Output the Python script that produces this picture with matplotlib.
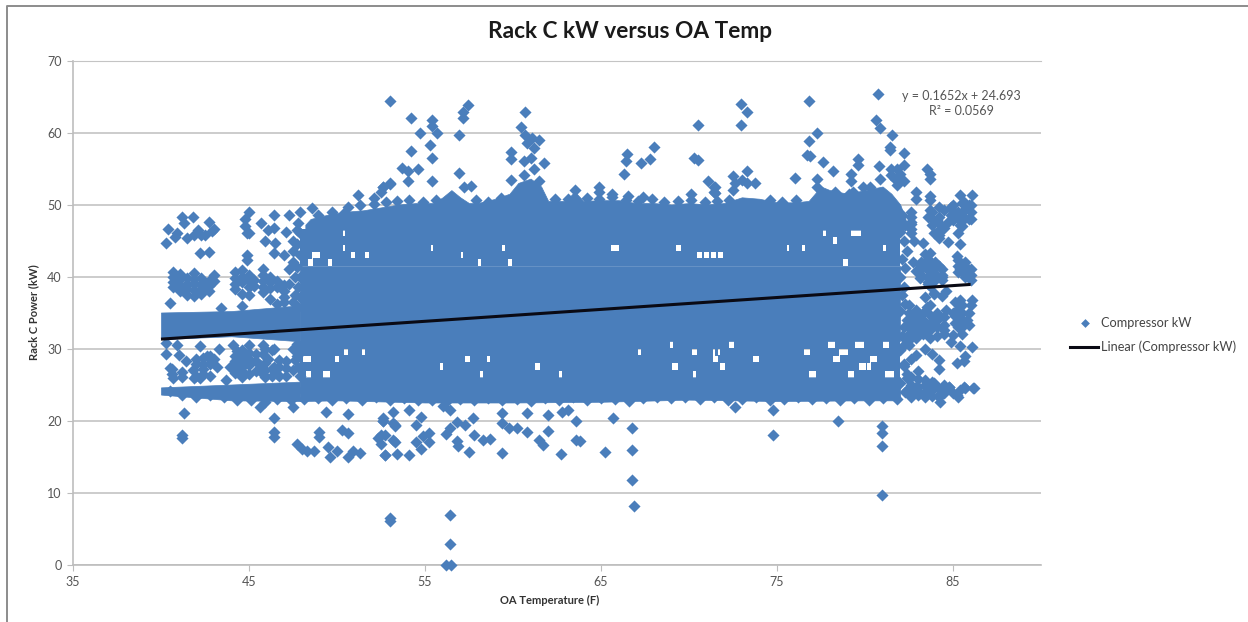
import matplotlib
matplotlib.use("Agg")
import matplotlib.pyplot as plt

plt.rcParams['font.family'] = ['Lato', 'DejaVu Sans']

# ============================================================
# DATA
# ============================================================

BLUE = '#4A7EBB'

x_ticks = [35, 45, 55, 65, 75, 85]
y_ticks = [0, 10, 20, 30, 40, 50, 60, 70]

trend_temp = [40, 86]
trend_kw = [31.3, 38.9]

# The reference has thousands of overlapping diamonds that merge into a solid
# band, so the saturated part is kept as its read envelope
top_temp = [48.2, 48.5, 49.5, 50.5, 51.5, 52.5, 53.5, 54.5, 55.5, 56, 56.5, 57, 57.5, 58, 59, 59.8, 60.3, 61, 61.6, 62,
            63, 63.5, 64, 65, 66, 67, 68, 69, 70, 71, 72, 73, 74, 75, 76, 76.8, 77.5, 78, 79, 80, 81, 81.5, 82, 82.3]
top_kw = [47.2, 48.0, 48.6, 49, 49.2, 49.6, 50, 50.2, 50.2, 51, 52, 51, 50.2, 50.2, 50.8, 51.5, 53, 53.6, 52.5, 50.5,
          50.5, 51.8, 50.5, 50.6, 50.6, 50.2, 50.2, 50, 50.2, 50, 50.2, 51, 50.8, 50.3, 50.3, 50.5, 52.5, 52, 51.5, 52,
          52.5, 51.5, 50, 48]
low_temp = [47.9, 50, 55, 60, 65, 70, 75, 80, 82.0]
low_kw = [22.7, 22.8, 22.5, 22.5, 22.6, 22.9, 22.7, 22.8, 22.8]

left_temp = [40, 44, 47.9]
left_low_kw = [31.3, 31.7, 31.0]
left_high_kw = [35.0, 35.2, 36.0]
left_floor_kw = [23.6, 22.8, 22.7]
left_under_kw = [24.6, 25.0, 25.4]

mid_temp = [47.9, 82.0]
mid_low_kw = [31, 31]
mid_high_kw = [41.5, 41.5]

# Rows of the band that are not solid: 26-31 kW and 41.5-46.5 kW
row_bottoms = [26, 27, 28, 29, 30, 41.5, 42.5, 43.5, 44.5, 45.5]
row_start = 47.9
row_end = 82.0

# White flecks left between the diamonds in those rows
fleck_temp = [48.8, 48.5, 50.4, 50.4, 50.9, 51.7, 49.6, 55.4, 57.1, 58.1, 59.45, 59.83, 65.8, 69.4, 70.6, 71.4,
              71.8, 71.0, 76.5, 75.65, 78.3, 78.9, 77.7, 79.5, 81.1,
              48.3, 48.4, 49.4, 50.0, 50.5, 51.5, 57.4, 58.6, 58.2, 55.95, 61.4, 62.7, 67.2, 69.0, 70.3,
              71.5, 69.2, 70.3, 71.5, 71.6, 72.4, 71.9, 73.8, 76.7, 77.0, 78.1, 78.8, 79.7, 78.4, 79.9, 79.2, 80.5,
              81.4, 81.2, 80.2]
fleck_kw = [43.0, 41.8, 45.5, 44.1, 43.2, 42.8, 42.0, 43.7, 43.2, 42.3, 43.9, 41.8, 43.7, 43.8, 43.4, 43.0,
            43.2, 42.8, 43.9, 44.4, 44.5, 42.3, 46.0, 46.0, 44.4,
            28.6, 26.6, 26.6, 28.2, 29.1, 29.6, 28.6, 28.0, 26.2, 27.0, 27.7, 26.6, 29.3, 30.5, 29.5,
            29.8, 27.5, 26.5, 28.0, 29.8, 30.5, 27.9, 28.4, 29.1, 26.5, 30.9, 29.0, 30.9, 28.0, 27.7, 26.5, 28.9,
            26.5, 30.0, 27.0]
fleck_width = [0.45, 0.3, 0.12, 0.12, 0.2, 0.2, 0.2, 0.15, 0.15, 0.2, 0.2, 0.2, 0.5, 0.25, 0.25, 0.3,
               0.3, 0.25, 0.2, 0.12, 0.2, 0.25, 0.12, 0.6, 0.2,
               0.45, 0.3, 0.4, 0.25, 0.25, 0.2, 0.3, 0.15, 0.2, 0.2, 0.25, 0.2, 0.15, 0.2, 0.3,
               0.3, 0.3, 0.15, 0.3, 0.3, 0.3, 0.3, 0.35, 0.3, 0.4, 0.4, 0.5, 0.5, 0.4, 0.45, 0.3, 0.4,
               0.5, 0.3, 0.3]

# Scalloped edges of the band
edge_top_temp = [50.6, 51.3, 52.1, 52.8, 53.4, 54.1, 54.9, 55.6, 57.9, 58.6, 59.3, 62.4, 63.1, 64.2, 64.9, 65.6, 66.4,
                 67.1, 67.9, 68.6, 69.4, 70.1, 70.9, 71.6, 72.3, 74.6, 75.3, 76.1, 79.3, 48.9, 49.7]
edge_top_kw = [49.6, 49.9, 50.1, 50.3, 50.5, 50.6, 50.4, 50.6, 50.6, 50.4, 50.9, 50.7, 50.8, 50.9, 50.7, 51.0, 50.6,
               50.5, 50.7, 50.3, 50.5, 50.6, 50.3, 50.5, 50.6, 50.6, 50.4, 50.6, 51.7, 48.6, 49.0]
edge_low_temp = [40.5, 41.2, 42.0, 42.8, 43.6, 44.3, 45.1, 45.9, 46.6, 47.4, 48.1, 48.9, 49.7, 50.5, 51.4, 52.2, 53.0,
                 53.8, 54.6, 55.4, 56.2, 57.0, 57.8, 58.6, 59.4, 60.2, 61.0, 61.8, 62.6, 63.4, 64.2, 65.0, 65.8, 66.6,
                 67.4, 68.2, 69.0, 69.8, 70.6, 71.4, 72.2, 73.0, 73.8, 74.6, 75.4, 76.2, 77.0, 77.8, 78.6, 79.4,
                 80.2, 81.0, 81.8]
edge_low_kw = [24.1, 23.5, 23.2, 23.5, 23.2, 22.8, 22.8, 22.6, 23.0, 22.8, 23.0, 23.1, 22.9, 23.1, 22.9, 23.2, 22.9,
               23.1, 22.8, 22.9, 22.6, 23.0, 22.8, 23.1, 22.8, 23.0, 22.7, 23.1, 22.8, 23.2, 22.9, 23.1, 23.0, 22.7,
               23.1, 23.2, 23.1, 23.2, 23.0, 23.2, 22.9, 23.0, 23.2, 22.9, 23.0, 23.2, 23.0, 23.1, 22.9, 23.1,
               22.8, 23.1, 23.0]

# Diamonds that roughen the two ends of the solid band
edge_side_temp = [47.8, 47.9, 47.7, 47.9, 47.7, 47.9, 47.8, 47.9, 47.8, 47.7, 47.9, 47.7, 47.8, 47.9, 47.7,
                  82.1, 82.3, 82.0, 82.2, 82.4, 82.1, 82.3, 82.0, 82.2, 82.1, 82.3, 82.0, 82.4, 82.2, 82.1, 82.3, 82.0,
                  82.2, 82.4, 82.0, 82.3]
edge_side_kw = [47.5, 46.0, 44.5, 43.0, 41.3, 40.0, 38.6, 37.2, 35.8, 30.6, 29.5, 28.9, 27.5, 26.2, 24.2,
                48.5, 47.2, 46.2, 44.9, 43.6, 42.4, 41.2, 39.9, 38.6, 37.4, 36.2, 35.2, 34.0, 33.0, 31.8, 30.6, 29.8,
                27.6, 26.4, 25.2, 24.0]

# Upper outliers
high_temp = [53.0, 54.2, 55.4, 55.4, 54.7, 55.66, 56.95, 55.3, 54.2, 55.4, 53.7, 54.05, 54.6, 54.05, 55.4, 56.95,
             57.46, 57.14, 57.14, 53.0, 52.6, 57.2, 57.6, 60.68, 60.43, 60.68, 61.06, 61.5, 60.8, 61.2, 59.9, 59.9,
             60.6, 61.0, 61.76, 61.2, 60.6, 59.9, 61.5, 63.5, 64.9, 64.9, 65.6, 66.45, 66.4, 66.3, 67.3, 67.8, 68.0,
             66.55, 67.4, 70.5, 70.3, 70.5, 70.1, 71.1, 71.4, 71.4, 72.96, 73.3, 72.96, 71.5, 71.5, 72.5, 72.6,
             73.0, 73.3, 73.75, 73.3, 72.5, 76.0, 76.8, 77.3, 76.8, 76.7, 76.9, 77.6, 78.2, 77.3, 79.6, 79.6, 79.2,
             79.2, 79.9, 80.3, 78.3, 79.1, 77.3, 80.76, 80.6, 80.86, 81.55, 81.4, 81.4, 82.2, 80.8, 82.2, 81.8,
             81.5, 81.5, 82.0, 80.86, 82.2, 81.8, 81.7, 83.5, 83.7, 83.7, 82.9, 82.9, 83.7, 83.7, 85.4, 86.1, 85.6,
             84.9, 84.2, 51.2, 52.1, 53.0, 52.6, 52.5, 50.4]
high_kw = [64.4, 62.0, 61.8, 60.9, 60.0, 59.9, 59.65, 58.3, 57.4, 56.4, 55.1, 54.7, 54.9, 53.3, 53.2, 54.4,
           63.8, 62.9, 62.0, 53.0, 52.5, 52.4, 52.6, 62.8, 60.7, 59.65, 59.2, 58.9, 58.5, 57.8, 57.3, 56.3,
           56.0, 56.4, 55.8, 55.0, 54.1, 53.4, 53.2, 52.0, 52.5, 51.8, 51.5, 57.0, 56.0, 54.3, 55.7, 56.3, 58.0,
           51.2, 51.0, 61.0, 56.5, 56.2, 51.4, 53.2, 52.4, 51.7, 64.0, 62.9, 61.0, 52.4, 51.6, 53.9, 53.0,
           53.4, 54.7, 53.0, 53.0, 52.0, 53.7, 64.4, 59.9, 58.8, 56.9, 56.7, 55.9, 54.7, 53.5, 56.3, 55.5, 54.3,
           53.3, 52.4, 52.4, 51.8, 51.5, 52.5, 65.4, 61.7, 60.6, 59.6, 58.0, 57.6, 57.1, 55.3, 55.5, 55.0,
           55.0, 54.1, 54.3, 53.6, 53.3, 52.7, 53.6, 55.0, 54.2, 53.6, 51.8, 50.7, 51.2, 50.6, 51.3, 51.3, 50.4,
           49.7, 49.7, 51.3, 50.9, 52.9, 52.5, 51.8, 48.8]

# Loose diamonds at the cool end, above the trend line
left_top_temp = [41.2, 41.8, 42.7, 43.0, 40.4, 40.9, 41.3, 42.1, 42.5, 45.0, 44.8, 44.8, 44.9, 46.4, 45.7, 46.4, 46.1,
                 47.3, 47.9, 48.6, 47.1, 40.3, 40.8, 41.5, 41.9, 42.3, 42.9, 45.0, 45.9, 46.5, 46.4, 42.2, 42.7, 44.9,
                 44.9, 47.0,
                 40.7, 40.7, 40.7, 40.7, 41.1, 41.1, 41.1, 41.1, 41.5, 41.5, 41.5, 41.5, 41.9, 41.9, 41.9, 41.9, 41.9,
                 42.3, 42.3, 42.3, 42.3, 42.7, 42.7, 42.7, 43.0, 43.0, 40.5, 43.4, 44.6,
                 44.2, 44.2, 44.2, 44.2, 44.6, 44.6, 44.6, 44.6, 45.0, 45.0, 45.0, 45.0, 45.3, 45.3,
                 45.8, 45.8, 45.8, 45.8, 45.8, 46.2, 46.2, 46.2, 46.2, 46.6, 46.6, 46.6, 47.0, 47.0, 47.0, 47.0,
                 47.5, 47.5, 47.5, 47.7, 47.3, 47.6, 47.3, 47.6, 47.5]
left_top_kw = [48.2, 48.2, 47.6, 46.6, 46.6, 46.1, 47.4, 46.5, 45.8, 49.0, 48.0, 47.0, 46.0, 48.6, 47.4, 46.7, 46.5,
               48.5, 49.0, 49.5, 46.2, 44.7, 45.5, 45.3, 45.7, 45.7, 46.3, 46.0, 45.0, 44.6, 43.2, 43.2, 43.4, 43.0,
               42.3, 43.0,
               40.6, 40.0, 39.2, 38.5, 40.4, 39.6, 38.8, 38.0, 39.8, 39.0, 38.2, 37.4, 40.5, 39.7, 38.9, 38.1, 37.3,
               39.8, 39.0, 38.2, 37.6, 39.4, 38.7, 38.0, 40.2, 39.4, 36.3, 35.6, 35.9,
               40.6, 39.8, 39.0, 38.2, 40.9, 40.0, 39.2, 37.6, 40.2, 39.4, 38.6, 37.4, 39.5, 38.7,
               41.0, 40.2, 39.4, 38.6, 37.8, 40.0, 39.2, 38.4, 36.9, 39.4, 38.6, 36.2, 38.8, 38.0, 37.2, 36.4,
               42.0, 43.5, 45.0, 46.5, 41.0, 40.0, 39.0, 37.5, 36.5]

# Loose diamonds at the cool end, below the trend line
left_low_temp = [40.3, 41.0, 40.5, 41.4, 41.8, 42.6, 43.0, 42.4, 42.2, 44.3, 44.8, 44.3, 45.0, 44.6, 45.8, 46.1, 45.6,
                 46.4, 45.8, 46.6, 47.1, 43.7, 40.7, 41.9, 44.3, 43.9, 44.6, 40.3, 40.9, 42.2, 43.3, 44.1, 45.0,
                 45.8, 46.4,
                 40.6, 40.6, 41.2, 41.2, 42.0, 42.0, 42.0, 42.4, 42.4, 42.4, 42.8, 42.8, 42.8, 43.2,
                 44.2, 44.2, 44.2, 44.2, 44.6, 44.6, 44.6, 44.6, 45.0, 45.0, 45.0, 45.4, 45.4, 45.4,
                 45.9, 45.9, 45.9, 45.9, 46.3, 46.3, 46.3, 46.7, 46.7, 46.7, 47.1, 47.1, 47.5, 47.5, 47.6]
left_low_kw_pts = [29.3, 29.1, 27.3, 28.2, 27.0, 28.9, 28.6, 27.9, 25.9, 29.6, 29.1, 27.9, 28.6, 27.4, 29.3, 28.6, 27.7,
                   27.5, 26.5, 26.5, 27.3, 25.6, 25.9, 25.9, 26.9, 27.5, 26.1, 30.7, 30.5, 30.3, 30.0, 30.5, 30.5,
                   30.5, 30.0,
                   26.5, 27.2, 26.0, 26.8, 27.8, 28.5, 26.2, 28.7, 27.2, 26.4, 27.8, 28.9, 26.2, 27.4,
                   29.0, 28.2, 27.4, 26.6, 29.8, 28.8, 28.0, 26.9, 29.4, 27.7, 26.5, 29.2, 28.2, 26.9,
                   30.0, 28.0, 27.0, 26.1, 29.8, 27.2, 26.2, 28.4, 27.5, 26.2, 28.2, 26.2, 30.0, 27.0, 28.4]

# Lower outliers
low_pts_temp = [41.3, 46.4, 49.4, 50.6, 47.5, 45.6, 52.6, 53.2, 53.2, 41.17, 41.17, 46.4, 46.4, 47.7, 48.0, 48.3, 48.7,
                49.0, 49.0, 49.5, 50.0, 49.6, 50.3, 50.6, 50.6, 50.9, 51.3, 53.0, 53.0, 52.35, 52.5, 52.5, 52.7, 53.2,
                53.3, 52.6, 53.4, 52.6, 53.3, 54.1, 54.8, 54.5, 52.7, 53.3, 52.7, 54.1, 54.5, 54.9, 55.2, 55.2, 54.8,
                56.4, 56.0, 56.4, 56.2, 56.8, 57.3, 57.7, 57.8, 56.8, 56.9, 57.5, 58.3, 58.7, 59.35, 59.35, 59.8, 60.2,
                60.8, 60.8, 62.0, 62.0, 61.5, 61.7, 59.35, 62.7, 62.8, 63.1, 63.6, 63.6, 63.8, 65.66, 65.2, 66.74,
                66.74, 66.74, 66.9, 56.4, 56.4, 56.2, 56.45, 72.6, 74.76, 74.8, 78.45, 80.95, 80.95, 80.95, 80.95]
low_pts_kw = [21.1, 20.3, 21.2, 20.9, 21.9, 21.9, 20.3, 21.2, 19.6, 18.0, 17.6, 18.4, 17.7, 16.8, 16.0, 15.7, 15.7,
              18.4, 17.7, 16.3, 15.8, 15.0, 18.7, 18.3, 15.0, 15.7, 15.5, 6.4, 6.0, 17.6, 18.0, 16.8, 15.2, 17.3,
              19.4, 20.0, 15.4, 20.0, 19.2, 21.4, 20.5, 19.4, 18.0, 17.0, 15.2, 15.2, 17.0, 17.8, 18.2, 17.0, 16.1,
              21.5, 22.0, 18.9, 18.1, 19.8, 19.4, 20.3, 18.0, 17.1, 16.5, 15.6, 17.3, 17.5, 21.0, 19.7, 18.9, 18.9,
              21.0, 18.4, 20.7, 18.6, 17.3, 16.6, 15.5, 15.4, 21.2, 21.4, 20.0, 17.3, 17.2, 20.3, 15.6, 18.9,
              15.9, 11.7, 8.1, 6.9, 2.9, 0.0, 0.0, 21.9, 21.4, 18.0, 20.0, 19.2, 18.3, 16.4, 9.6]

# Warm end, past the solid band
right_temp = [85.6, 85.2, 85.9, 84.9, 85.4, 85.9, 84.7, 85.3, 83.7, 84.1, 84.4, 83.9, 84.2, 83.6, 85.3, 84.7, 85.4,
              83.7, 83.4, 85.2, 85.7, 85.7, 85.4, 86.0, 83.7, 83.1, 84.3, 83.7, 84.2, 83.1, 82.8, 82.6, 84.6, 83.9,
              84.4, 83.4, 86.06, 86.0, 85.4, 85.2, 85.8, 85.3, 85.0, 83.5, 84.6, 84.5, 84.1, 83.0, 82.6, 85.0,
              82.5, 82.9, 82.2, 83.0, 83.8, 84.2, 84.2, 85.4, 86.1, 85.7, 85.2, 85.6, 84.8, 85.4, 86.15, 85.7, 85.2,
              82.4, 82.9, 83.4, 83.8, 84.27, 83.7, 83.9, 83.1, 82.4, 84.8, 85.6, 86.2, 85.3, 85.0, 84.2, 82.6, 83.4,
              84.9, 82.7, 82.6, 83.3, 82.9, 83.6, 84.4, 83.9,
              82.6, 82.6, 82.6, 82.6, 83.8, 83.8, 83.8, 84.2, 84.2, 84.2, 84.2, 84.5, 84.5, 85.0, 85.0, 85.0,
              85.5, 85.5, 85.5, 85.5, 86.0, 86.0, 86.0,
              83.2, 83.2, 83.2, 83.6, 83.6, 83.6, 83.6, 83.6, 84.0, 84.0, 84.0, 84.0, 84.4, 84.4, 84.4,
              85.3, 85.3, 85.3, 85.7, 85.7, 85.7, 86.0, 86.0,
              82.5, 82.5, 82.5, 82.5, 82.5, 82.5, 82.9, 82.9, 82.9, 82.9, 82.9, 83.3, 83.3, 83.3, 83.3,
              83.7, 83.7, 83.7, 83.7, 83.7, 84.1, 84.1, 84.1, 84.1, 84.5, 84.5, 84.5,
              85.1, 85.1, 85.1, 85.5, 85.5, 85.5, 85.5, 85.5, 85.9, 85.9,
              82.6, 82.6, 82.6, 82.6, 83.0, 83.0, 83.0, 83.4, 83.4, 83.4, 83.8, 83.8, 83.8, 84.2, 84.2, 84.5, 84.5]
right_kw = [49.2, 48.2, 48.0, 48.6, 47.2, 49.9, 47.6, 49.0, 49.2, 47.8, 46.6, 46.0, 45.4, 48.2, 46.0, 44.8, 44.5,
            43.2, 43.1, 42.8, 41.4, 40.2, 41.0, 39.5, 40.7, 39.8, 39.9, 38.7, 41.5, 41.6, 45.0, 47.6, 38.0, 37.7,
            37.3, 37.2, 36.7, 36.0, 36.7, 35.3, 34.0, 33.0, 34.9, 35.8, 35.4, 32.6, 34.1, 34.6, 33.6, 31.9,
            30.5, 29.1, 27.9, 26.9, 29.3, 28.4, 27.2, 30.3, 30.2, 29.0, 28.0, 28.3, 24.7, 24.2, 24.5, 24.5, 23.6,
            25.9, 24.7, 25.6, 24.2, 22.6, 24.2, 25.2, 23.8, 24.3, 24.6, 24.7, 24.5, 23.3, 23.8, 23.6, 28.5, 30.0,
            30.9, 42.0, 46.0, 44.7, 40.8, 38.9, 40.0, 37.6,
            49.0, 48.2, 47.3, 46.6, 48.9, 48.0, 47.2, 48.3, 47.5, 46.5, 45.7, 49.3, 46.8, 50.0, 49.1, 47.9,
            50.2, 48.5, 47.7, 47.0, 50.0, 49.0, 48.0,
            42.0, 41.0, 40.2, 42.4, 41.6, 40.9, 40.0, 39.3, 42.0, 41.2, 40.3, 39.5, 41.0, 40.2, 39.5,
            42.3, 41.5, 40.6, 42.0, 40.8, 39.9, 41.0, 40.2,
            36.0, 35.0, 34.0, 33.0, 32.0, 31.2, 35.4, 34.4, 33.4, 32.4, 31.4, 35.0, 34.0, 33.0, 32.0,
            36.0, 34.6, 33.6, 32.6, 31.4, 35.0, 34.0, 33.0, 31.8, 34.4, 33.2, 32.0,
            36.5, 34.5, 33.6, 36.0, 35.0, 34.0, 33.0, 32.0, 35.0, 33.2,
            26.0, 25.0, 24.0, 23.2, 25.8, 24.6, 23.6, 25.0, 24.0, 23.2, 25.4, 24.4, 23.4, 24.4, 23.2, 25.0, 23.8]

eq_lines = ['y = 0.1652x + 24.693', 'R² = 0.0569']


# ============================================================
# HELPERS
# ============================================================

def row_spans(bottom):
    """Stretches of one band row that are left after taking out its flecks."""
    gaps = sorted((t - w / 2, t + w / 2) for t, k, w in zip(fleck_temp, fleck_kw, fleck_width)
                  if bottom <= k < bottom + 1)
    spans = []
    start = row_start
    for g0, g1 in gaps:
        spans.append((start, g0 - start))
        start = g1
    spans.append((start, row_end - start))
    return spans


# ============================================================
# PLOT
# ============================================================

fig = plt.figure(figsize=(12.48, 6.22), dpi=100)
ax = fig.add_axes([73 / 1248, (622 - 564.5) / 622, 968 / 1248, 504 / 622])

ax.set_xlim(35, 90)
ax.set_ylim(0, 70)
ax.set_xticks(x_ticks)
ax.set_yticks(y_ticks)
ax.grid(axis='y', color='#C4C4C4', lw=1.2, zorder=0)
ax.set_axisbelow(True)

ax.spines['right'].set_visible(False)
for s in ['left', 'bottom']:
    ax.spines[s].set_color('#BDBDBD')
    ax.spines[s].set_linewidth(1.2)
ax.spines['top'].set_color('#C4C4C4')
ax.tick_params(axis='both', color='#BDBDBD', length=4, labelsize=9, labelcolor='#555555', pad=4)

# Solid part of the band
fill_kw = dict(color=BLUE, lw=0.5, zorder=2)
ax.fill_between(low_temp, low_kw, [26] * len(low_temp), **fill_kw)
ax.fill_between(left_temp, left_low_kw, left_high_kw, **fill_kw)
ax.fill_between(left_temp, left_floor_kw, left_under_kw, **fill_kw)
ax.fill_between(mid_temp, mid_low_kw, mid_high_kw, **fill_kw)
ax.fill_between(top_temp, [46.5] * len(top_temp), top_kw, **fill_kw)

# rows overlap a little so no seam shows between them
for bottom in row_bottoms:
    ax.broken_barh(row_spans(bottom), (bottom - 0.06, 1.12), facecolors=BLUE, edgecolor='none', zorder=2)

# Diamonds that stand on their own
marker_kw = dict(marker='D', s=38, color=BLUE, linewidths=0, zorder=3)
ax.scatter(edge_top_temp, edge_top_kw, **marker_kw)
ax.scatter(edge_low_temp, edge_low_kw, **marker_kw)
ax.scatter(edge_side_temp, edge_side_kw, **marker_kw)
ax.scatter(left_top_temp, left_top_kw, **marker_kw)
ax.scatter(left_low_temp, left_low_kw_pts, **marker_kw)
ax.scatter(high_temp, high_kw, **marker_kw)
ax.scatter(low_pts_temp, low_pts_kw, clip_on=False, **marker_kw)
ax.scatter(right_temp, right_kw, **marker_kw)

ax.plot(trend_temp, trend_kw, color='#0A0A14', lw=2.2, zorder=4, solid_capstyle='butt')

# Texts
fig.text(630 / 1248, 1 - 31 / 622, 'Rack C kW versus OA Temp', ha='center', va='center',
         fontsize=16.3, fontweight='bold', color='#1A1A1A')
fig.text(550 / 1248, 1 - 600 / 622, 'OA Temperature (F)', ha='center', va='center',
         fontsize=8, fontweight='bold', color='#333333')
fig.text(34 / 1248, 1 - 312 / 622, 'Rack C Power (kW)', ha='center', va='center', rotation=90,
         fontsize=8, fontweight='bold', color='#333333')
fig.text(961 / 1248, 1 - 95.7 / 622, eq_lines[0], ha='center', va='center', fontsize=9, color='#555555')
fig.text(961 / 1248, 1 - 111 / 622, eq_lines[1], ha='center', va='center', fontsize=9, color='#555555')

# Legend, placed by hand
ax_fig = fig.add_axes([0, 0, 1, 1], facecolor='none')
ax_fig.set_xlim(0, 1248)
ax_fig.set_ylim(622, 0)
ax_fig.axis('off')
ax_fig.scatter([1085], [323], marker='D', s=20, color=BLUE, linewidths=0)
ax_fig.plot([1070, 1098], [346.7, 346.7], color='#0A0A14', lw=2.2)
ax_fig.text(1101, 323, 'Compressor kW', va='center', fontsize=9.2, color='#444444')
ax_fig.text(1101, 346.7, 'Linear (Compressor kW)', va='center', fontsize=9.2, color='#444444')

# Outer chart frame
ax_fig.plot([7, 7, 1248], [622, 6, 6], color='#8C8C8C', lw=1.4)

fig.savefig('out.png', dpi=100)
